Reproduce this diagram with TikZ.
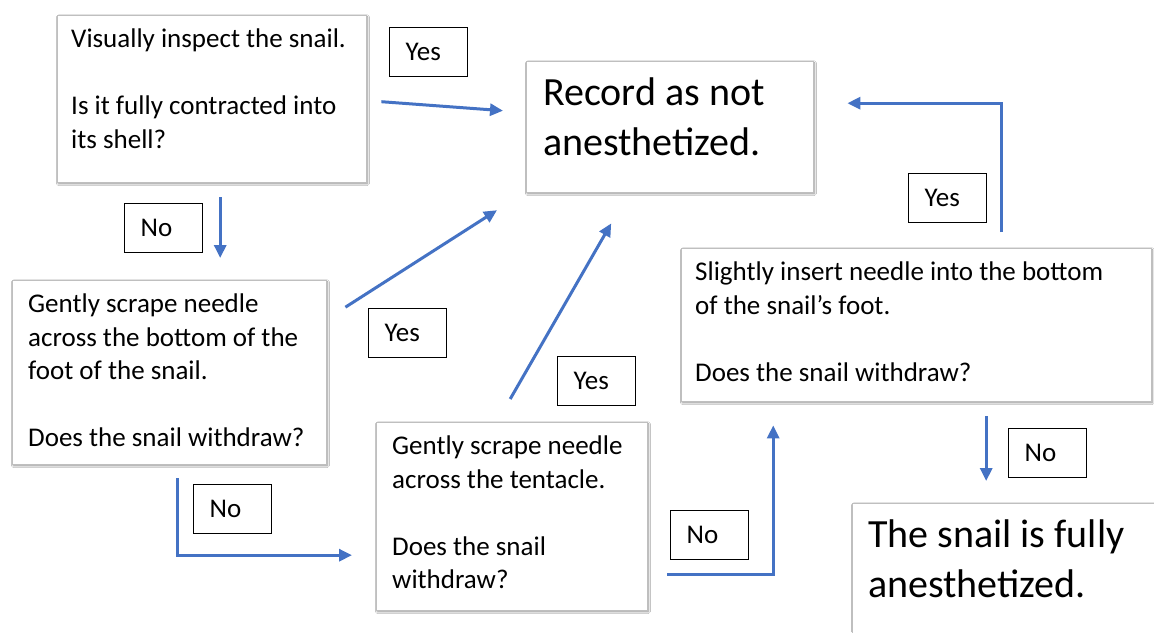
\documentclass[tikz,border=0pt]{standalone}
\usepackage{fontspec}
\setmainfont{Carlito}
\usetikzlibrary{arrows.meta,shadows.blur}
\definecolor{flowblue}{RGB}{68,114,196}
\newcommand{\stepfont}{\fontsize{27}{33.5}\selectfont}
\newcommand{\bigfont}{\fontsize{40}{50}\selectfont}

\begin{document}
\begin{tikzpicture}[x=1pt, y=-1pt,
    card/.style={draw=black!25, fill=white, anchor=north west, inner xsep=15pt, inner ysep=9pt,
      blur shadow={shadow xshift=1.2pt, shadow yshift=-1.6pt, shadow blur steps=6, shadow opacity=45}},
    answer/.style={draw=black, line width=1.2pt, anchor=north west, minimum height=49pt,
      inner xsep=16pt, text width=46pt, align=left, font=\stepfont},
    flow/.style={flowblue, line width=3pt, -{Triangle[length=13pt,width=12pt]}}]
  \clip (0,0) rectangle (1154,632);
  \fill[white] (0,0) rectangle (1154,632);

  % steps
  \node[card, inner xsep=14pt] (inspect) at (57,15)
    {\parbox[t][149pt][t]{281pt}{\stepfont\strut Visually inspect the snail.\\[\baselineskip]Is it fully contracted into\\its shell?}};
  \node[card, inner xsep=16pt] (scrapefoot) at (12,280)
    {\parbox[t][166pt][t]{282pt}{\stepfont\strut Gently scrape needle\\across the bottom of the\\foot of the snail.\\[\baselineskip]Does the snail withdraw?}};
  \node[card, inner xsep=16pt] (scrapetent) at (376,422)
    {\parbox[t][170pt][t]{239pt}{\stepfont\strut Gently scrape needle\\across the tentacle.\\[\baselineskip]Does the snail\\withdraw?}};
  \node[card, inner xsep=14pt] (insert) at (681,248)
    {\parbox[t][135pt][t]{442pt}{\stepfont\strut Slightly insert needle into the bottom\\of the snail’s foot.\\[\baselineskip]Does the snail withdraw?}};

  % outcomes
  \node[card, inner xsep=17pt] (record) at (526,61)
    {\parbox[t][113pt][t]{253pt}{\bigfont\strut Record as not\\anesthetized.}};
  \node[card, inner xsep=16pt] (done) at (852,503)
    {\parbox[t][150pt][t]{290pt}{\bigfont\strut The snail is fully\\anesthetized.}};

  % answers
  \node[answer] (yes1) at (389,27) {Yes};
  \node[answer] (no1) at (124,203) {No};
  \node[answer] (yes2) at (368,308) {Yes};
  \node[answer] (no2) at (193,484) {No};
  \node[answer] (yes3) at (557,356) {Yes};
  \node[answer] (no3) at (670,510) {No};
  \node[answer] (yes4) at (908,173) {Yes};
  \node[answer] (no4) at (1008,428) {No};

  \draw[flow] ([shift={(15pt,-3pt)}]inspect.east) -- ([shift={(-23pt,16pt)}]record.west);
  \draw[flow] ([shift={(8.5pt,-15pt)}]inspect.south) -- ([shift={(51pt,22pt)}]scrapefoot.north);
  \draw[flow] ([shift={(19pt,65pt)}]scrapefoot.east) -- ([shift={(-29pt,-83.5pt)}]record.west);
  \draw[flow] ([shift={(8pt,-14pt)}]scrapefoot.south) |- ([shift={(-24pt,-39pt)}]scrapetent.west);
  \draw[flow] ([shift={(-1.5pt,23pt)}]scrapetent.north) -- ([shift={(-58.5pt,-31pt)}]record.south);
  \draw[flow] ([shift={(20pt,-58pt)}]scrapetent.east) -| ([shift={(-143pt,-24pt)}]insert.south);
  \draw[flow] ([shift={(85pt,16pt)}]insert.north) |- ([shift={(34pt,23.5pt)}]record.east);
  \draw[flow] ([shift={(70pt,-15pt)}]insert.south) -- ([shift={(-27pt,22pt)}]done.north);
\end{tikzpicture}
\end{document}
